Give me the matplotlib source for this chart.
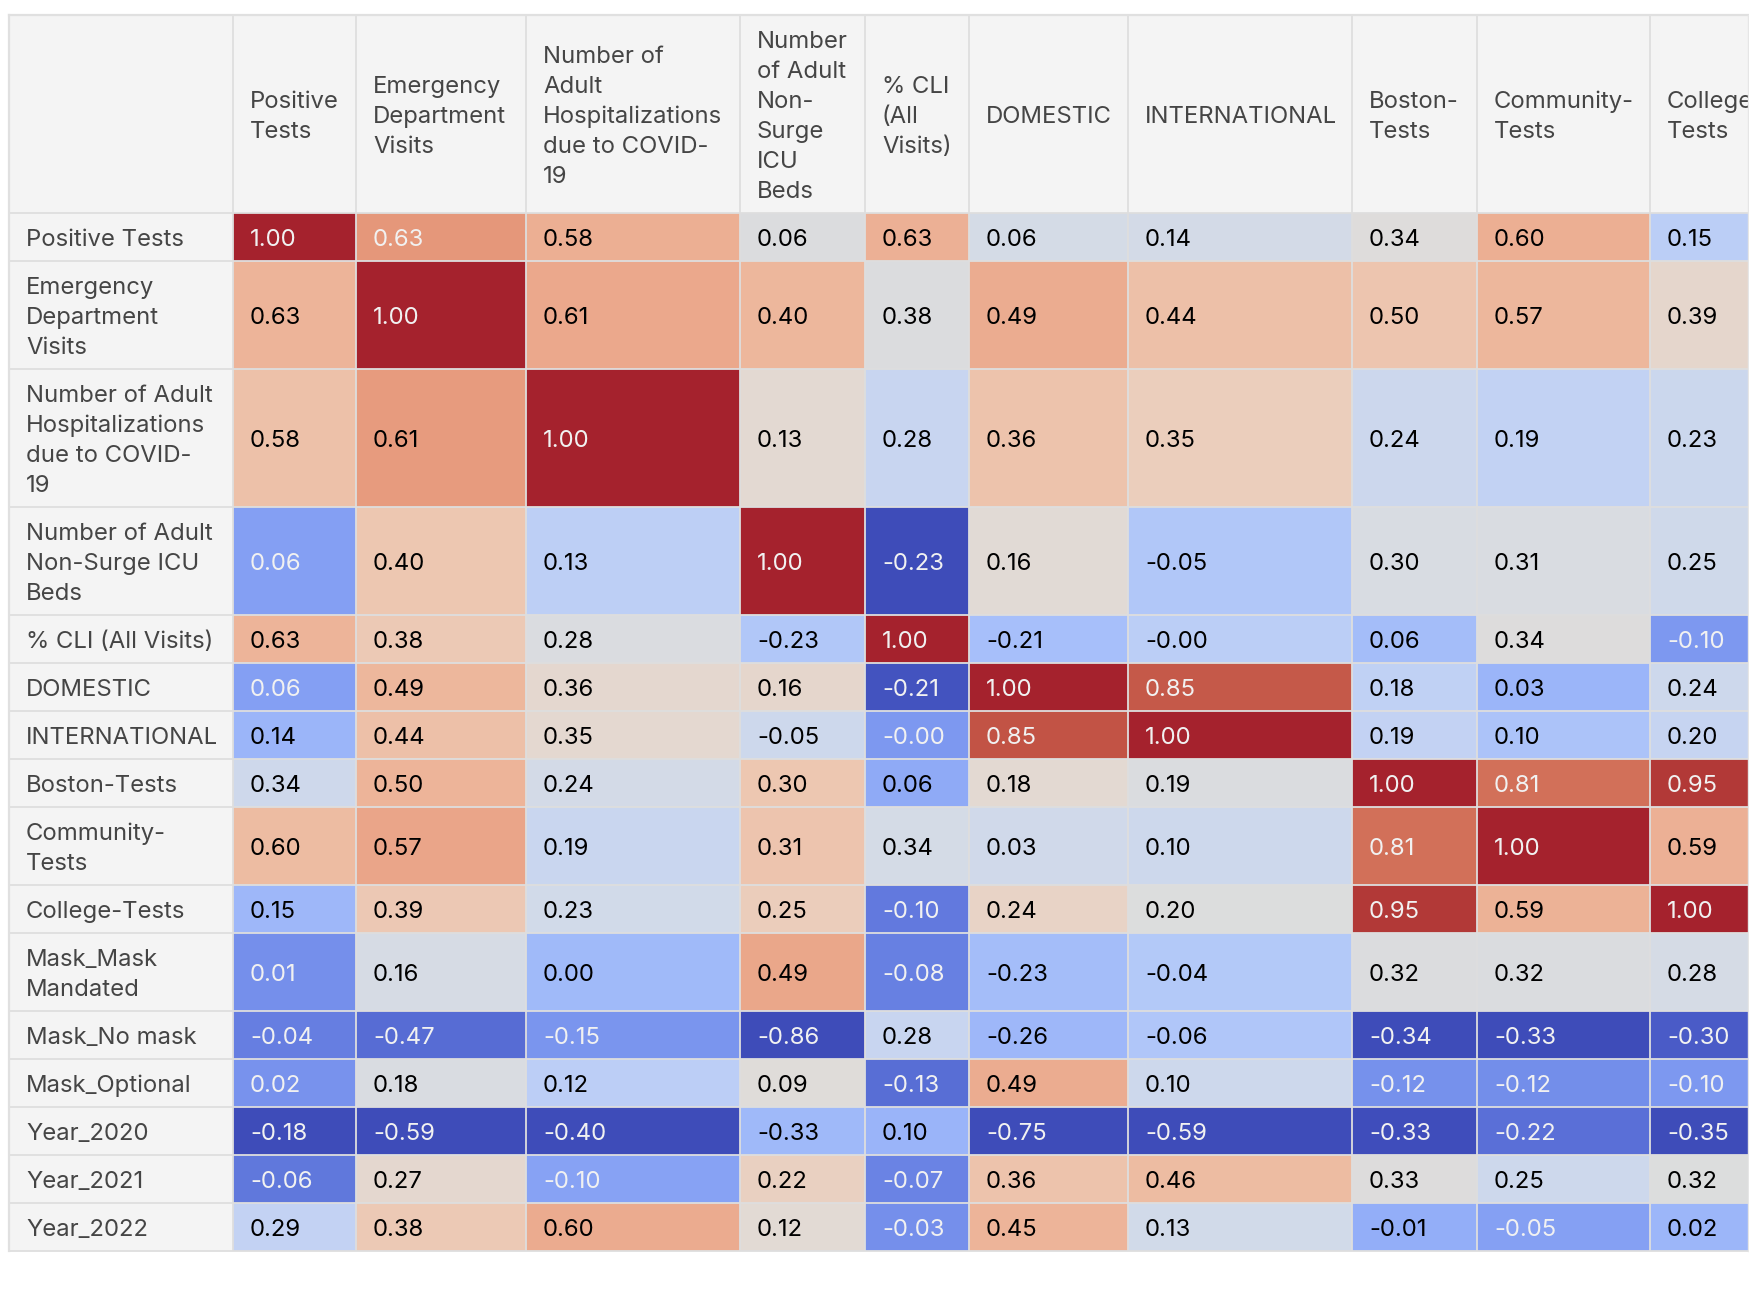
import numpy as np
import matplotlib
matplotlib.use("Agg")
import matplotlib.pyplot as plt
from matplotlib.patches import Rectangle
from matplotlib import colormaps, colors as mcolors

# ---------------- data ----------------
columns = [
    "Positive\nTests",
    "Emergency\nDepartment\nVisits",
    "Number of\nAdult\nHospitalizations\ndue to COVID-\n19",
    "Number\nof Adult\nNon-\nSurge\nICU\nBeds",
    "% CLI\n(All\nVisits)",
    "DOMESTIC",
    "INTERNATIONAL",
    "Boston-\nTests",
    "Community-\nTests",
    "College-\nTests",
]
rows = [
    "Positive Tests",
    "Emergency\nDepartment\nVisits",
    "Number of Adult\nHospitalizations\ndue to COVID-\n19",
    "Number of Adult\nNon-Surge ICU\nBeds",
    "% CLI (All Visits)",
    "DOMESTIC",
    "INTERNATIONAL",
    "Boston-Tests",
    "Community-\nTests",
    "College-Tests",
    "Mask_Mask\nMandated",
    "Mask_No mask",
    "Mask_Optional",
    "Year_2020",
    "Year_2021",
    "Year_2022",
]
r_positive  = [1.00, 0.63, 0.58, 0.06, 0.63, 0.06, 0.14, 0.34, 0.60, 0.15]
r_emerg     = [0.63, 1.00, 0.61, 0.40, 0.38, 0.49, 0.44, 0.50, 0.57, 0.39]
r_hosp      = [0.58, 0.61, 1.00, 0.13, 0.28, 0.36, 0.35, 0.24, 0.19, 0.23]
r_icu       = [0.06, 0.40, 0.13, 1.00, -0.23, 0.16, -0.05, 0.30, 0.31, 0.25]
r_cli       = [0.63, 0.38, 0.28, -0.23, 1.00, -0.21, -0.00, 0.06, 0.34, -0.10]
r_domestic  = [0.06, 0.49, 0.36, 0.16, -0.21, 1.00, 0.85, 0.18, 0.03, 0.24]
r_intl      = [0.14, 0.44, 0.35, -0.05, -0.00, 0.85, 1.00, 0.19, 0.10, 0.20]
r_boston    = [0.34, 0.50, 0.24, 0.30, 0.06, 0.18, 0.19, 1.00, 0.81, 0.95]
r_community = [0.60, 0.57, 0.19, 0.31, 0.34, 0.03, 0.10, 0.81, 1.00, 0.59]
r_college   = [0.15, 0.39, 0.23, 0.25, -0.10, 0.24, 0.20, 0.95, 0.59, 1.00]
r_mask_mand = [0.01, 0.16, 0.00, 0.49, -0.08, -0.23, -0.04, 0.32, 0.32, 0.28]
r_mask_no   = [-0.04, -0.47, -0.15, -0.86, 0.28, -0.26, -0.06, -0.34, -0.33, -0.30]
r_mask_opt  = [0.02, 0.18, 0.12, 0.09, -0.13, 0.49, 0.10, -0.12, -0.12, -0.10]
r_y2020     = [-0.18, -0.59, -0.40, -0.33, 0.10, -0.75, -0.59, -0.33, -0.22, -0.35]
r_y2021     = [-0.06, 0.27, -0.10, 0.22, -0.07, 0.36, 0.46, 0.33, 0.25, 0.32]
r_y2022     = [0.29, 0.38, 0.60, 0.12, -0.03, 0.45, 0.13, -0.01, -0.05, 0.02]

values = np.array([r_positive, r_emerg, r_hosp, r_icu, r_cli, r_domestic, r_intl,
                   r_boston, r_community, r_college, r_mask_mand, r_mask_no,
                   r_mask_opt, r_y2020, r_y2021, r_y2022])

# ---------------- layout ----------------
W, H = 1758, 1300
CLIP_X = 1749
fig = plt.figure(figsize=(W / 100, H / 100), dpi=100)
fig.patch.set_facecolor("white")
ax = fig.add_axes([0, 0, CLIP_X / W, 1])
ax.set_xlim(0, CLIP_X)
ax.set_ylim(H, 0)
ax.axis("off")

plt.rcParams["font.family"] = ["Inter", "DejaVu Sans"]
FS = 17.2          # points (~24 px)
LINE = 30          # px per text line
PAD_V = 18         # px vertical padding
PAD_X = 17         # px left padding

col_edges = [9, 233, 356, 526, 740, 865, 969, 1128, 1352, 1477, 1650, 1860]
top = 15
header_h = PAD_V + LINE * max(c.count("\n") + 1 for c in columns)
row_h = [PAD_V + LINE * (r.count("\n") + 1) for r in rows]
row_edges = [top, top + header_h]
for h in row_h:
    row_edges.append(row_edges[-1] + h)

HEAD_BG = "#f4f4f4"
LABEL_COLOR = "#454545"
GRID = "#dedede"

cmap = colormaps["coolwarm"]
M_P3 = np.array([[0.8225, 0.1774, 0.0000],
                 [0.0332, 0.9669, 0.0000],
                 [0.0171, 0.0724, 0.9108]])


def to_display(rgb):
    c = np.asarray(rgb[:3], dtype=float)
    lin = np.where(c <= 0.04045, c / 12.92, ((c + 0.055) / 1.055) ** 2.4)
    p = np.clip(M_P3 @ lin, 0, 1)
    return np.where(p <= 0.0031308, 12.92 * p, 1.055 * p ** (1 / 2.4) - 0.055)


def luminance(rgb):
    r, g, b = [x / 12.92 if x <= 0.04045 else ((x + 0.055) / 1.055) ** 2.4 for x in rgb[:3]]
    return 0.2126 * r + 0.7152 * g + 0.0722 * b


def draw_lines(text, x, y0, y1, color):
    parts = text.split("\n")
    n = len(parts)
    yc = (y0 + y1) / 2
    for i, p in enumerate(parts):
        yb = yc + (i - (n - 1) / 2) * LINE + 8.7
        ax.text(x, yb, p, fontsize=FS, color=color, ha="left", va="baseline",
                clip_on=True)


# header row background
ax.add_patch(Rectangle((col_edges[0], row_edges[0]), col_edges[-1] - col_edges[0],
                       header_h, facecolor=HEAD_BG, edgecolor="none"))
# index column background
ax.add_patch(Rectangle((col_edges[0], row_edges[1]), col_edges[1] - col_edges[0],
                       row_edges[-1] - row_edges[1], facecolor=HEAD_BG, edgecolor="none"))

# body cells
for j in range(values.shape[1]):
    col = values[:, j]
    norm = mcolors.Normalize(col.min(), col.max())
    for i in range(values.shape[0]):
        v = col[i]
        rgba = cmap(norm(v))
        txt_color = "#f1f1f1" if luminance(rgba) < 0.408 else "#000000"
        x0, x1 = col_edges[j + 1], col_edges[j + 2]
        y0, y1 = row_edges[i + 1], row_edges[i + 2]
        ax.add_patch(Rectangle((x0, y0), x1 - x0, y1 - y0,
                               facecolor=to_display(rgba), edgecolor="none"))
        draw_lines(f"{v:.2f}", x0 + PAD_X, y0, y1, txt_color)

# header texts
for j, c in enumerate(columns):
    draw_lines(c, col_edges[j + 1] + PAD_X, row_edges[0], row_edges[1], LABEL_COLOR)
# index texts
for i, r in enumerate(rows):
    draw_lines(r, col_edges[0] + PAD_X, row_edges[i + 1], row_edges[i + 2], LABEL_COLOR)

# grid lines
lw = 1.3
for x in col_edges[:-1]:
    ax.plot([x, x], [row_edges[0], row_edges[-1]], color=GRID, lw=lw,
            solid_capstyle="butt", zorder=3)
for y in row_edges:
    ax.plot([col_edges[0], CLIP_X], [y, y], color=GRID, lw=lw,
            solid_capstyle="butt", zorder=3)
# outer border accents
ax.plot([col_edges[0], col_edges[0]], [row_edges[0], row_edges[-1]], color="#e0e0e0",
        lw=1.6, zorder=4)
ax.plot([col_edges[0], CLIP_X], [row_edges[0], row_edges[0]], color="#e0e0e0", lw=1.6, zorder=4)
ax.plot([CLIP_X - 1, CLIP_X - 1], [row_edges[0], row_edges[-1]], color="#e6e6e6", lw=1.0, zorder=4)

fig.savefig("out.png", dpi=100, facecolor="white")
